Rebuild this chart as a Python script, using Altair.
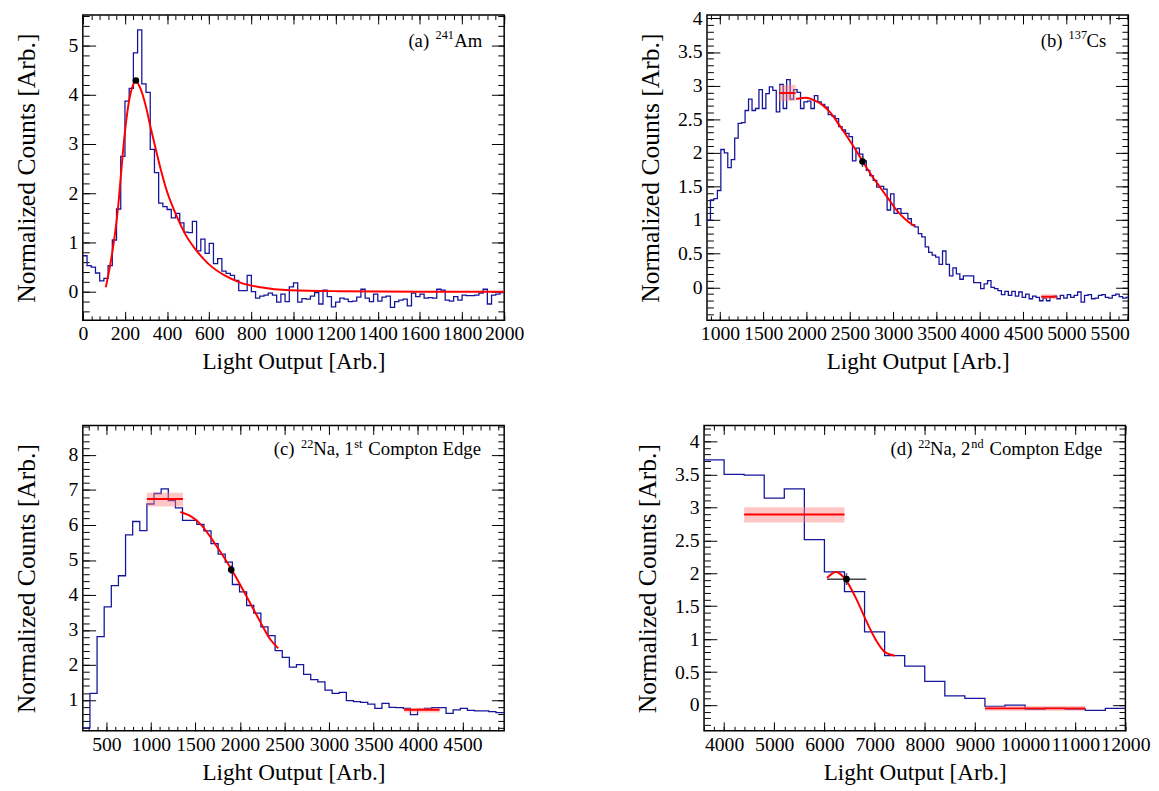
import altair as alt
import pandas as pd

FONT = "Liberation Serif"
W, H = 428, 310
HIST_COLOR = "#15159c"
RED = "#ff0000"

# ---------------- (a) 241Am ----------------
A_START, A_BIN = 0, 20
A_VALUES = [0.73, 0.53, 0.50, 0.38, 0.22, 0.27, 0.53, 1.05, 1.68, 2.75,
            3.87, 4.13, 4.85, 5.32, 4.22, 4.05, 2.89, 2.42, 1.80, 1.73,
            1.67, 1.50, 1.59, 1.40, 1.21, 1.20, 1.43, 0.83, 1.07, 0.78,
            0.98, 0.57, 0.67, 0.42, 0.37, 0.33, 0.23, 0.02, 0.02, 0.33,
            0.00, -0.13, -0.09, -0.07, -0.03, -0.07, -0.21, -0.05, -0.20, 0.10,
            0.18, -0.21, -0.14, -0.15, -0.09, -0.02, -0.25, 0.03, -0.10, -0.31,
            -0.21, -0.13, -0.15, -0.20, -0.19, -0.11, 0.05, -0.13, -0.20, -0.05,
            -0.19, -0.11, -0.09, -0.32, -0.20, -0.17, -0.15, -0.29, -0.03, -0.10,
            -0.05, -0.13, -0.12, -0.13, 0.05, 0.03, -0.17, -0.19, -0.10, -0.17,
            -0.07, -0.08, -0.08, -0.07, -0.03, 0.05, -0.25, -0.07, -0.05, -0.02]
A_FIT_X = [109, 128, 146, 167, 182, 198, 213, 229, 252, 276, 299, 322, 346,
           369, 400, 439, 486, 533, 595, 673, 751, 844, 984, 1218, 1600, 2000]
A_FIT_Y = [0.09, 0.50, 0.97, 1.70, 2.43, 3.17, 3.70, 4.07, 4.27, 4.10, 3.77, 3.33, 2.90,
           2.50, 2.03, 1.60, 1.17, 0.87, 0.57, 0.33, 0.18, 0.09, 0.03, 0.01, 0.0, 0.0]
A_POINT = (252, 4.29)
A_BANDS = []

# ---------------- (b) 137Cs ----------------
B_START, B_BIN = 850, 40
B_VALUES = [1.00, 1.30, 1.32, 1.44, 2.05, 2.00, 1.78, 1.90, 2.22, 2.44,
            2.45, 2.63, 2.80, 2.63, 2.66, 2.94, 2.66, 2.88, 2.98, 2.93,
            2.61, 3.02, 2.66, 3.09, 2.80, 2.94, 2.90, 2.66, 2.76, 2.77,
            2.66, 2.85, 2.76, 2.72, 2.68, 2.57, 2.55, 2.51, 2.39, 2.34,
            2.29, 2.24, 1.88, 2.07, 1.98, 1.88, 1.74, 1.66, 1.59, 1.49,
            1.50, 1.46, 1.15, 1.39, 1.10, 1.17, 1.10, 1.10, 1.02, 0.93,
            0.90, 0.80, 0.75, 0.60, 0.52, 0.48, 0.45, 0.34, 0.54, 0.34,
            0.17, 0.29, 0.20, 0.12, 0.17, 0.17, 0.17, 0.07, 0.07, -0.02,
            0.05, 0.10, 0.00, -0.02, -0.05, -0.11, -0.06, -0.12, -0.06, -0.13,
            -0.07, -0.15, -0.10, -0.17, -0.13, -0.15, -0.20, -0.16, -0.20, -0.15,
            -0.13, -0.17, -0.12, -0.16, -0.11, -0.15, -0.12, -0.07, -0.22, -0.12,
            -0.11, -0.17, -0.16, -0.12, -0.11, -0.15, -0.16, -0.12, -0.10, -0.14,
            -0.16, -0.15]
B_FIT_X = [1880, 1995, 2090, 2185, 2280, 2374, 2469, 2564, 2659, 2753, 2848, 2943, 3038, 3133, 3247]
B_FIT_Y = [2.80, 2.82, 2.78, 2.71, 2.59, 2.42, 2.24, 2.05, 1.85, 1.66, 1.49, 1.32, 1.15, 1.02, 0.91]
B_POINT = (2646, 1.87)
B_BANDS = [(1683, 1873, 2.77, 3.01, 2.89), (4710, 4890, -0.175, -0.105, -0.14)]

# ---------------- (c) 22Na 1st edge ----------------
C_START, C_BIN = 235, 80
C_VALUES = [0.20, 1.19, 2.81, 3.66, 4.27, 4.55, 5.72, 6.10, 5.84, 6.60,
            6.90, 7.03, 6.70, 6.49, 6.13, 6.13, 6.02, 5.83, 5.47, 5.17,
            4.94, 4.30, 4.09, 3.70, 3.48, 3.09, 2.84, 2.41, 2.22, 1.94,
            2.01, 1.73, 1.58, 1.52, 1.28, 1.19, 1.22, 0.98, 0.95, 0.93,
            0.88, 0.76, 0.90, 0.79, 0.78, 0.76, 0.58, 0.73, 0.76, 0.78,
            0.78, 0.62, 0.72, 0.76, 0.70, 0.69, 0.69, 0.67, 0.64, 0.64]
C_FIT_X = [1330, 1459, 1570, 1680, 1791, 1902, 2012, 2123, 2233, 2344, 2429]
C_FIT_Y = [6.37, 6.23, 5.99, 5.61, 5.19, 4.74, 4.25, 3.73, 3.21, 2.72, 2.48]
C_POINT = (1902, 4.72)
C_BANDS = [(954, 1360, 6.53, 6.92, 6.74), (3845, 4243, 0.64, 0.78, 0.72)]

# ---------------- (d) 22Na 2nd edge ----------------
D_START, D_BIN = 3600, 400
D_VALUES = [3.72, 3.50, 3.49, 3.14, 3.28, 2.51, 2.02, 1.72, 1.11, 0.75,
            0.59, 0.36, 0.14, 0.10, -0.02, 0.00, -0.06, -0.05, -0.06, -0.08, -0.05]
D_FIT_X = [6052, 6230, 6426, 6623, 6820, 7016, 7213, 7410]
D_FIT_Y = [1.93, 2.02, 1.90, 1.63, 1.30, 1.00, 0.80, 0.75]
D_POINT = (6440, 1.91)
D_BANDS = [(4400, 6400, 2.77, 3.00, 2.89), (9200, 11200, -0.085, -0.015, -0.05)]


def steps(lo, hi, step):
    n = int(round((hi - lo) / step))
    return [round(lo + i * step, 4) for i in range(n + 1)]


LABEL_EXPR = "'' + datum.value"


def main_x_axis(values, title):
    return alt.Axis(orient="bottom", values=values, title=title, ticks=False, domain=False,
                    grid=False, labelFont=FONT, labelFontSize=20, labelColor="black",
                    labelPadding=4, labelFlush=False, labelOverlap=False, labelExpr=LABEL_EXPR,
                    titleFont=FONT, titleFontSize=23.5, titleFontWeight="normal",
                    titleColor="black", titleBaseline="alphabetic", titleY=49)


def main_y_axis(values, title):
    return alt.Axis(orient="left", values=values, title=title, ticks=False, domain=False,
                    grid=False, labelFont=FONT, labelFontSize=20, labelColor="black",
                    labelPadding=5, labelFlush=False, labelOverlap=False, labelExpr=LABEL_EXPR,
                    titleFont=FONT, titleFontSize=26, titleFontWeight="normal",
                    titleColor="black", titleBaseline="alphabetic", titleX=-49.5)


def tick_axis(orient, values, size, offset):
    return alt.Axis(orient=orient, values=values, labels=False, ticks=True, tickSize=size,
                    tickColor="black", tickWidth=1, domain=False, grid=False, title=None,
                    offset=offset)


def panel(start, binw, values, fit_x, fit_y, bands, point, xerr, yerr,
          xdom, ydom, xmaj, xmin, ymaj, ymin, texts):
    hist = pd.DataFrame({"x": [start + binw * i for i in range(len(values) + 1)],
                         "y": list(values) + [values[-1]]})
    xs = alt.Scale(domain=xdom, nice=False, zero=False)
    ys = alt.Scale(domain=ydom, nice=False, zero=False)
    base = alt.Chart(hist)
    layers = [base.mark_line(interpolate="step-after", color=HIST_COLOR, strokeWidth=1.3,
                             clip=True).encode(
        x=alt.X("x:Q", scale=xs, axis=main_x_axis(xmaj, "Light Output [Arb.]")),
        y=alt.Y("y:Q", scale=ys, axis=main_y_axis(ymaj, "Normalized Counts [Arb.]")))]

    for xo, xv, xsz, yo, yv, ysz in [("top", xmaj, 9, "right", ymaj, 13),
                                     ("top", xmin, 4.5, "right", ymin, 6.5),
                                     ("bottom", xmaj, 9, "left", ymaj, 13),
                                     ("bottom", xmin, 4.5, "left", ymin, 6.5)]:
        layers.append(base.mark_point(opacity=0, clip=True).encode(
            x=alt.X("x:Q", scale=xs, axis=tick_axis(xo, xv, xsz, -H)),
            y=alt.Y("y:Q", scale=ys, axis=tick_axis(yo, yv, ysz, -W))))

    if bands:
        bdf = pd.DataFrame(bands, columns=["x0", "x1", "y0", "y1", "yc"])
        layers.append(alt.Chart(bdf).mark_rect(fill="#ff8080", opacity=0.45).encode(
            x=alt.X("x0:Q", scale=xs, axis=None), x2="x1",
            y=alt.Y("y0:Q", scale=ys, axis=None), y2="y1"))
        layers.append(alt.Chart(bdf).mark_rule(color=RED, strokeWidth=2).encode(
            x=alt.X("x0:Q", scale=xs, axis=None), x2="x1",
            y=alt.Y("yc:Q", scale=ys, axis=None)))

    fdf = pd.DataFrame({"x": fit_x, "y": fit_y})
    layers.append(alt.Chart(fdf).mark_line(color=RED, strokeWidth=2, interpolate="monotone",
                                           clip=True).encode(
        x=alt.X("x:Q", scale=xs, axis=None), y=alt.Y("y:Q", scale=ys, axis=None)))

    px_, py_ = point
    pdf = pd.DataFrame({"x": [px_], "y": [py_], "xlo": [xerr[0]], "xhi": [xerr[1]],
                        "ylo": [py_ - yerr], "yhi": [py_ + yerr]})
    if xerr[1] > xerr[0]:
        layers.append(alt.Chart(pdf).mark_rule(color="#444444", strokeWidth=1.5).encode(
            x=alt.X("xlo:Q", scale=xs, axis=None), x2="xhi",
            y=alt.Y("y:Q", scale=ys, axis=None)))
    if yerr > 0:
        layers.append(alt.Chart(pdf).mark_rule(color="#444444", strokeWidth=1.5).encode(
            x=alt.X("x:Q", scale=xs, axis=None),
            y=alt.Y("ylo:Q", scale=ys, axis=None), y2="yhi"))
    layers.append(alt.Chart(pdf).mark_circle(size=45, color="black", opacity=1).encode(
        x=alt.X("x:Q", scale=xs, axis=None), y=alt.Y("y:Q", scale=ys, axis=None)))

    for t, tx, ty, fs in texts:
        layers.append(alt.Chart(pd.DataFrame({"t": [t]})).mark_text(
            align="left", baseline="alphabetic", font=FONT, fontSize=fs, color="black").encode(
            x=alt.value(tx), y=alt.value(ty), text="t:N"))

    return alt.layer(*layers).resolve_axis(x="independent", y="independent").properties(
        width=W, height=H)


pa = panel(A_START, A_BIN, A_VALUES, A_FIT_X, A_FIT_Y, A_BANDS, A_POINT, (0, 0), 0,
           [0, 2000], [-0.58, 5.62], steps(0, 2000, 200), steps(0, 2000, 40),
           steps(0, 5, 1), steps(-0.4, 5.6, 0.2),
           [("(a)", 330.7, 32, 19), ("241", 358.3, 24, 12.5), ("Am", 377.3, 32, 19)])
pb = panel(B_START, B_BIN, B_VALUES, B_FIT_X, B_FIT_Y, B_BANDS, B_POINT, (0, 0), 0.08,
           [850, 5716], [-0.49, 4.05], steps(1000, 5500, 500), steps(900, 5700, 100),
           steps(0, 4, 0.5), steps(-0.4, 4.0, 0.1),
           [("(b)", 339, 32, 19), ("137", 367.3, 24, 12.5), ("Cs", 385.6, 32, 19)])
pc = panel(C_START, C_BIN, C_VALUES, C_FIT_X, C_FIT_Y, C_BANDS, C_POINT, (0, 0), 0.12,
           [235, 4968], [0.12, 8.84], steps(500, 4500, 500), steps(300, 4900, 100),
           steps(1, 8, 1), steps(0.2, 8.8, 0.2),
           [("(c)", 194, 30, 19), ("22", 221.7, 22.5, 12.5), ("Na, 1", 234, 30, 19),
            ("st", 275.7, 22.5, 12.5), ("Compton Edge", 290, 30, 19)])
pd_ = panel(D_START, D_BIN, D_VALUES, D_FIT_X, D_FIT_Y, D_BANDS, D_POINT, (6052, 6833), 0.09,
            [3600, 12000], [-0.39, 4.24], steps(4000, 12000, 1000), steps(3600, 12000, 200),
            steps(0, 4, 0.5), steps(-0.3, 4.2, 0.1),
            [("(d)", 189.5, 30, 19), ("22", 217.5, 22.5, 12.5), ("Na, 2", 229.5, 30, 19),
             ("nd", 271.5, 22.5, 12.5), ("Compton Edge", 290, 30, 19)])

chart = alt.vconcat(
    alt.hconcat(pa, pb, spacing=113),
    alt.hconcat(pc, pd_, spacing=129),
    spacing=50,
).properties(padding={"left": 4, "top": -7, "right": 0, "bottom": 0}).configure_view(
    stroke="black", strokeWidth=1.5
).configure_axis(labelFont=FONT, titleFont=FONT).configure_text(font=FONT)

chart.save("out.html", embed_options={"renderer": "svg", "actions": False})
